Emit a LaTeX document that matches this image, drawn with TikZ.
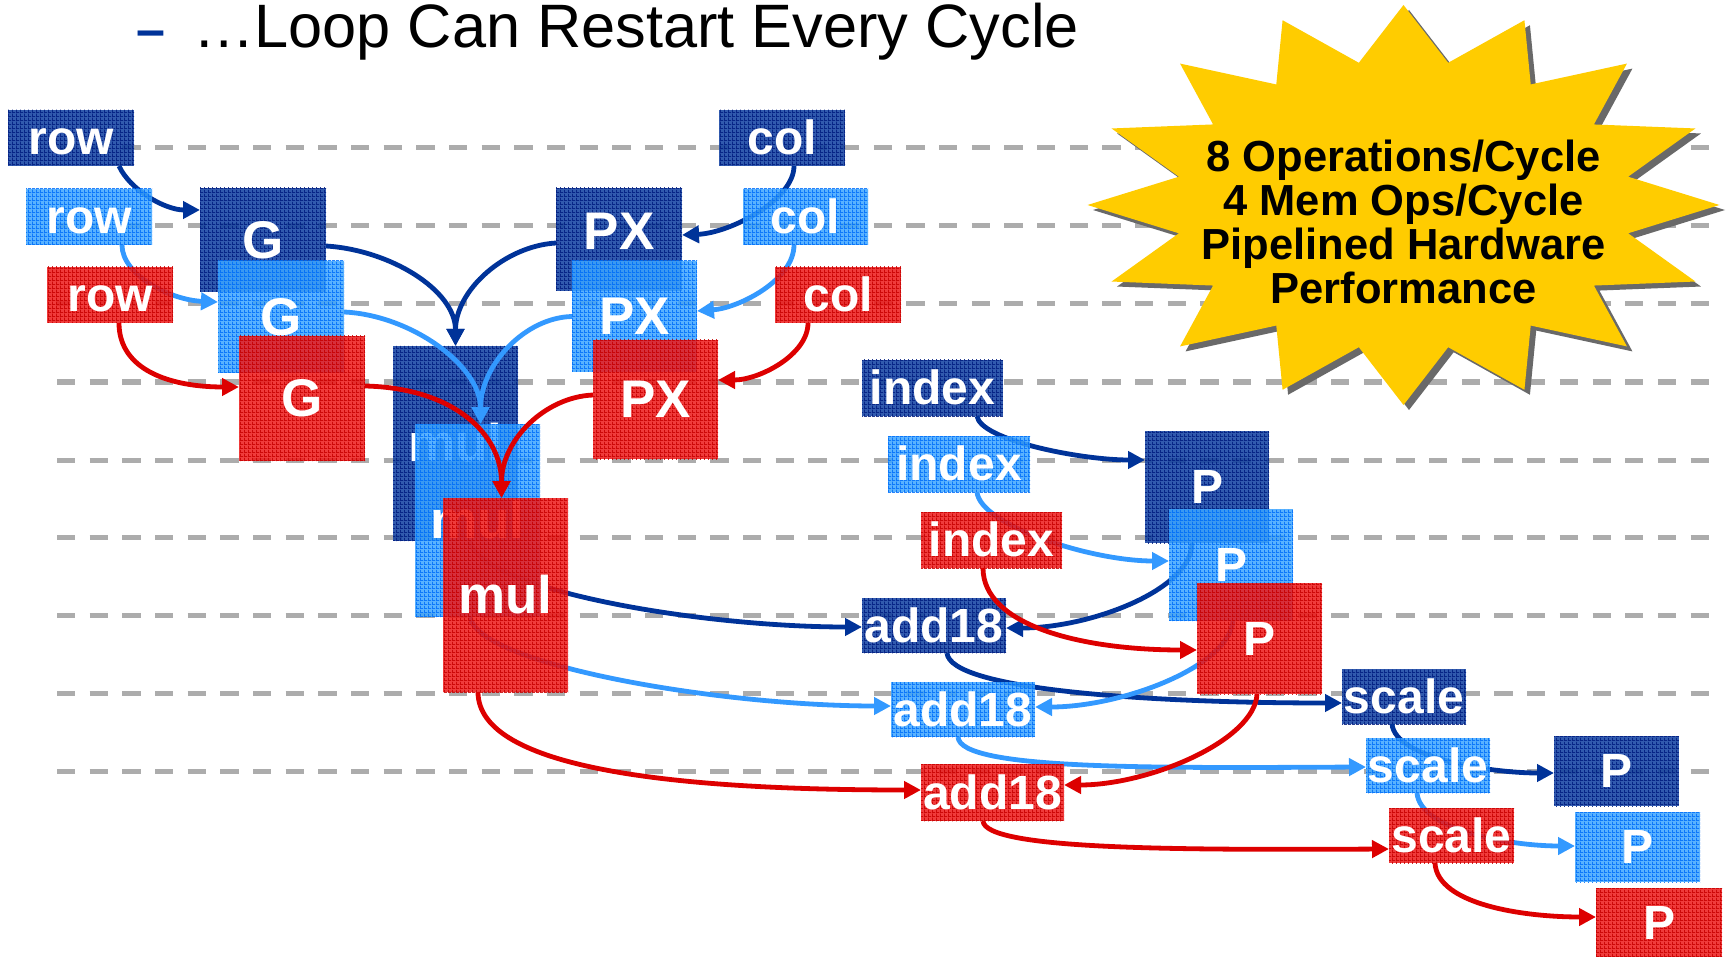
\documentclass[tikz,border=0pt]{standalone}
\usepackage{fontspec}
\setmainfont{Liberation Sans}
\usetikzlibrary{arrows.meta,patterns}

% fine woven grain laid over every operation box
\pgfdeclarepatternformonly{boxgrain}{\pgfpointorigin}{\pgfpoint{4pt}{4pt}}{\pgfpoint{4pt}{4pt}}{%
  \pgfpathrectangle{\pgfpointorigin}{\pgfpoint{4pt}{1pt}}%
  \pgfpathrectangle{\pgfpointorigin}{\pgfpoint{1pt}{4pt}}%
  \pgfusepath{fill}}

\definecolor{dkline}{RGB}{0,51,153}
\definecolor{ltline}{RGB}{51,153,255}
\definecolor{rdline}{RGB}{221,0,0}
\definecolor{dkfill}{RGB}{14,62,160}
\definecolor{dkgrain}{RGB}{0,28,128}
\definecolor{ltfill}{RGB}{60,165,255}
\definecolor{ltgrain}{RGB}{0,110,250}
\definecolor{rdfill}{RGB}{238,25,25}
\definecolor{rdgrain}{RGB}{200,0,0}
\definecolor{rulegray}{RGB}{172,172,172}
\definecolor{burstyellow}{RGB}{255,204,0}
\definecolor{burstshade}{RGB}{105,105,105}

\begin{document}
\begin{tikzpicture}[x=1pt,y=1pt,
  cell/.style={inner sep=0pt, outer sep=0pt, text=white, fill opacity=0.85, text opacity=1},
  sz/.style 2 args={minimum width=#1pt, minimum height=#2pt},
  tagS/.style={font=\fontsize{48}{52}\selectfont\bfseries, text height=43.4pt, text depth=10.2pt},
  tagB/.style={font=\fontsize{53}{58}\selectfont\bfseries, text height=48pt, text depth=11.2pt},
  tagP/.style={font=\fontsize{48}{52}\selectfont\bfseries, text height=43.4pt, text depth=10.2pt},
  dkbox/.style={cell, fill=dkfill, postaction={pattern=boxgrain, pattern color=dkgrain}},
  ltbox/.style={cell, fill=ltfill, postaction={pattern=boxgrain, pattern color=ltgrain}},
  rdbox/.style={cell, fill=rdfill, postaction={pattern=boxgrain, pattern color=rdgrain}},
  flow/.style={line width=4.8pt, -{Triangle[length=17pt,width=17pt]}},
  dkarr/.style={flow, draw=dkline},
  ltarr/.style={flow, draw=ltline},
  rdarr/.style={flow, draw=rdline},
  cyclerule/.style={line width=5pt, draw=rulegray, dash pattern=on 18.3pt off 14.37pt},
  burstlbl/.style={anchor=base, inner sep=0pt, font=\fontsize{43.5}{49}\selectfont\bfseries},
  headline/.style={anchor=base west, inner sep=0pt, font=\fontsize{61.3}{70}\selectfont}]

\useasboundingbox[fill=white] (0,0) rectangle (1729,-957);

% clock-cycle rules
\foreach \yy in {148,226,304,382,460,537,615,693,771}
  \draw[cyclerule] (57,-\yy) -- (1709,-\yy);

% sixteen-point burst with its drop shadow
\fill[burstshade] plot[samples at={0,...,31}, variable=\k]
  ({1409+(272.5+43.5*cos(\k*180))*cos(\k*11.25)}, {-210+(172.5+27.5*cos(\k*180))*sin(\k*11.25)}) -- cycle;
\fill[burstyellow] plot[samples at={0,...,31}, variable=\k]
  ({1403.5+(272.5+43.5*cos(\k*180))*cos(\k*11.25)}, {-205+(172.5+27.5*cos(\k*180))*sin(\k*11.25)}) -- cycle;
\node[burstlbl] (perf1) at (1403.5,-172) {8 Operations/Cycle};
\node[burstlbl] (perf2) at (1403.5,-216) {4 Mem Ops/Cycle};
\node[burstlbl] (perf3) at (1403.5,-260) {Pipelined Hardware};
\node[burstlbl] (perf4) at (1403.5,-304) {Performance};

% heading
\node[headline, text=dkline, font=\fontsize{52}{56}\selectfont\bfseries] (bullet) at (136,-48) {–};
\node[headline] (title) at (193,-48) {…Loop Can Restart Every Cycle};

% ---- iteration 1 (dark blue) ----
\node[dkbox,tagS,sz={126}{56}] (rowd) at (71,-138) {row};
\node[dkbox,tagS,sz={126}{56}] (cold) at (782,-138) {col};
\node[dkbox,tagB,sz={126}{104}] (Gd) at (263,-240) {G};
\node[dkbox,tagB,sz={126}{103},text depth=27pt] (PXd) at (619,-239.5) {PX};
\node[dkbox,tagB,sz={125}{195}] (muld) at (455.5,-443.5) {mul};
\node[dkbox,tagS,sz={141}{56}] (indexd) at (932.5,-388) {index};
\node[dkbox,tagP,sz={124}{112}] (Pd) at (1207,-487) {P};
\node[dkbox,tagS,sz={144}{55}] (add18d) at (934,-625.5) {add18};
\node[dkbox,tagS,sz={124}{55}] (scaled) at (1404,-696.5) {scale};
\node[dkbox,tagP,sz={125}{70}] (Pfd) at (1616.5,-771) {P};

\draw[dkarr] ([xshift=48pt]rowd.south) .. controls +(11,-24) and +(-35,0) .. ([yshift=30pt]Gd.west);
\draw[dkarr] ([xshift=12pt]cold.south) .. controls +(0,-34) and +(48,2) .. ([yshift=4.5pt]PXd.east);
\draw[dkarr] ([yshift=-6pt]Gd.east) .. controls +(64,-4) and +(0,56) .. (muld.north);
\draw[dkarr] ([yshift=-3.5pt]PXd.west) .. controls +(-51,-3) and +(0,56) .. (muld.north);
\draw[dkarr] ([xshift=44.5pt]indexd.south) .. controls +(3,-24) and +(-65,0) .. ([yshift=27pt]Pd.west);
\draw[dkarr] ([xshift=-15pt]Pd.south) .. controls +(0,-47) and +(84,0) .. ([yshift=-2.5pt]add18d.east);
\draw[dkarr] ([xshift=14.5pt]muld.south) .. controls +(10,-49) and +(-162,0) .. ([yshift=-1.5pt]add18d.west);
\draw[dkarr] ([xshift=13pt]add18d.south) .. controls +(3,-37) and +(-192,0) .. ([yshift=-6.5pt]scaled.west);
\draw[dkarr] ([xshift=-12pt]scaled.south) .. controls +(3,-34) and +(-64,0) .. ([yshift=-2pt]Pfd.west);

% ---- iteration 2 (light blue) ----
\node[ltbox,tagS,sz={126}{56}] (rowl) at (89,-217) {row};
\node[ltbox,tagS,sz={125}{56}] (coll) at (805.5,-217) {col};
\node[ltbox,tagB,sz={126}{112}] (Gl) at (281,-317) {G};
\node[ltbox,tagB,sz={125}{111}] (PXl) at (634.5,-316.5) {PX};
\node[ltbox,tagB,sz={125}{193}] (mull) at (477.5,-520.5) {mul};
\node[ltbox,tagS,sz={142}{56}] (indexl) at (959,-464) {index};
\node[ltbox,tagP,sz={124}{112}] (Pl) at (1231,-565) {P};
\node[ltbox,tagS,sz={144}{55}] (add18l) at (963,-709.5) {add18};
\node[ltbox,tagS,sz={124}{55}] (scalel) at (1428,-765.5) {scale};
\node[ltbox,tagP,sz={125}{70}] (Pfl) at (1637.5,-847) {P};

\draw[ltarr] ([xshift=33pt]rowl.south) .. controls +(0,-30) and +(-48,2) .. ([yshift=15pt]Gl.west);
\draw[ltarr] ([xshift=-11.5pt]coll.south) .. controls +(0,-35) and +(42,3) .. ([yshift=5.5pt]PXl.east);
\draw[ltarr] ([yshift=5pt]Gl.east) .. controls +(66,-3) and +(0,59) .. ([xshift=3pt]mull.north);
\draw[ltarr] (PXl.west) .. controls +(-47,-1) and +(0,59) .. ([xshift=3pt]mull.north);
\draw[ltarr] ([xshift=18pt]indexl.south) .. controls +(3,-33) and +(-79,0) .. ([yshift=4pt]Pl.west);
\draw[ltarr] ([xshift=2pt]Pl.south) .. controls +(-5,-47) and +(85,0) .. ([yshift=2.5pt]add18l.east);
\draw[ltarr] ([xshift=-7.5pt]mull.south) .. controls +(8,-48) and +(-171,0) .. ([yshift=3.5pt]add18l.west);
\draw[ltarr] ([xshift=-5pt]add18l.south) .. controls +(2,-33) and +(-216,-1) .. ([yshift=-1.5pt]scalel.west);
\draw[ltarr] ([xshift=-11pt]scalel.south) .. controls +(3,-37) and +(-65,0) .. ([yshift=1pt]Pfl.west);

% ---- iteration 3 (red) ----
\node[rdbox,tagS,sz={126}{56}] (rowr) at (110,-295) {row};
\node[rdbox,tagS,sz={126}{56}] (colr) at (838,-295) {col};
\node[rdbox,tagB,sz={126}{125}] (Gr) at (302,-398.5) {G};
\node[rdbox,tagB,sz={125}{119}] (PXr) at (655.5,-399.5) {PX};
\node[rdbox,tagB,sz={125}{194}] (mulr) at (505.5,-595) {mul};
\node[rdbox,tagS,sz={141}{56}] (indexr) at (991.5,-540) {index};
\node[rdbox,tagP,sz={125}{111}] (Pr) at (1259.5,-638.5) {P};
\node[rdbox,tagS,sz={143}{57}] (add18r) at (992.5,-792.5) {add18};
\node[rdbox,tagS,sz={125}{55}] (scaler) at (1451.5,-835.5) {scale};
\node[rdbox,tagP,sz={126}{69}] (Pfr) at (1659,-922.5) {P};

\draw[rdarr] ([xshift=9pt]rowr.south) .. controls +(0,-47) and +(-69,0) .. ([yshift=11.5pt]Gr.west);
\draw[rdarr] ([xshift=-30pt]colr.south) .. controls +(0,-32) and +(41,0) .. ([yshift=19.5pt]PXr.east);
\draw[rdarr] ([yshift=12.5pt]Gr.east) .. controls +(90,-2) and +(0,63) .. ([xshift=-4pt]mulr.north);
\draw[rdarr] ([yshift=4.5pt]PXr.west) .. controls +(-48,-2) and +(0,58) .. ([xshift=-4pt]mulr.north);
\draw[rdarr] ([xshift=-8.5pt]indexr.south) .. controls +(0,-57) and +(-117,0) .. ([yshift=-11.5pt]Pr.west);
\draw[rdarr] ([xshift=-2.5pt]Pr.south) .. controls +(-2,-46) and +(86,0) .. ([yshift=7.5pt]add18r.east);
\draw[rdarr] ([xshift=-27.5pt]mulr.south) .. controls +(0,-78) and +(-241,0) .. ([yshift=2.5pt]add18r.west);
\draw[rdarr] ([xshift=-9.5pt]add18r.south) .. controls +(2,-29) and +(-209,-1) .. ([yshift=-13.5pt]scaler.west);
\draw[rdarr] ([xshift=-16.5pt]scaler.south) .. controls +(2,-42) and +(-71,0) .. ([yshift=5.5pt]Pfr.west);

\end{tikzpicture}
\end{document}
